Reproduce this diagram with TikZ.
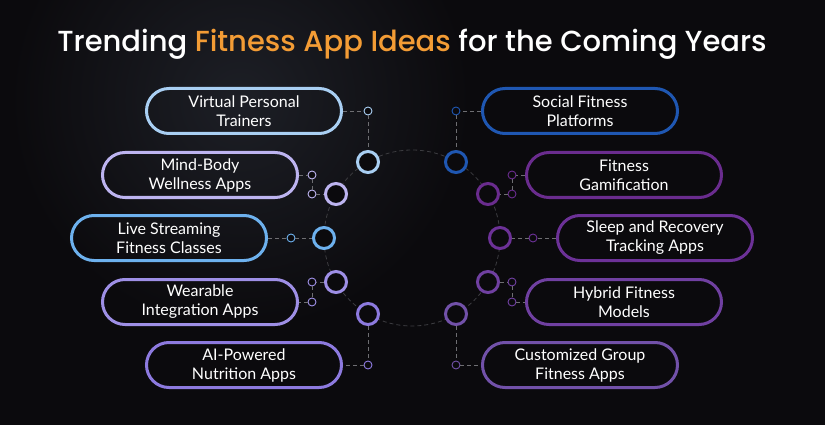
\documentclass[tikz,border=0pt]{standalone}
\usepackage{fontspec}
\setmainfont{Lato}
\newfontfamily\titlefont{Poppins Medium}
\usetikzlibrary{positioning,calc}

\definecolor{bgdark}{HTML}{0B0A0D}
\definecolor{glow}{HTML}{1D1F26}
\definecolor{orangeT}{HTML}{F39C35}
\definecolor{skyA}{HTML}{A9CFF3}
\definecolor{lavA}{HTML}{BDB4F0}
\definecolor{skyB}{HTML}{6DB1EE}
\definecolor{lavB}{HTML}{9E8FE6}
\definecolor{lavC}{HTML}{8D7ADF}
\definecolor{navyA}{HTML}{1F57B2}
\definecolor{plumA}{HTML}{6A2C8E}
\definecolor{plumB}{HTML}{6C3197}
\definecolor{plumC}{HTML}{7040A1}
\definecolor{plumD}{HTML}{7251A9}
\definecolor{dashgray}{HTML}{6E6E72}
\definecolor{ringgray}{HTML}{3C3C40}

\tikzset{
  pill/.style={draw=#1, line width=3pt, rounded corners=22.5pt, minimum width=195pt,
    minimum height=45pt, text=white, align=center, inner sep=0pt,
    font=\fontsize{16}{19}\selectfont},
  ring/.style={circle, draw=#1, line width=3pt, minimum size=21pt, inner sep=0pt, fill=bgdark},
  dot/.style={circle, draw=#1, line width=0.9pt, minimum size=8pt, inner sep=0pt, fill=bgdark},
  link/.style={draw=dashgray, line width=0.8pt, dash pattern=on 4pt off 3pt},
}

\begin{document}
\begin{tikzpicture}[x=1pt, y=-1pt]
  \useasboundingbox (0,0) rectangle (825,425);
  % background
  \begin{scope}
    \clip (0,0) rectangle (825,425);
    \fill[bgdark] (0,0) rectangle (825,425);
    \shade[inner color=glow, outer color=bgdark] (240,100) circle[radius=230pt];
  \end{scope}

  % title
  \node[anchor=base, text=white, inner sep=0pt] (title) at (412,52)
    {\titlefont\fontsize{29}{34}\selectfont Trending \textcolor{orangeT}{Fitness App Ideas} for the Coming Years};

  % dashed ring
  \draw[draw=ringgray, line width=0.8pt, dash pattern=on 4pt off 3pt] (412,238) circle[radius=88pt];

  %left pills
  \node[pill=skyA] (vpt) at (244,111) {Virtual Personal\\Trainers};
  \node[pill=lavA] (mbw) at (200,175) {Mind-Body\\Wellness Apps};
  \node[pill=skyB] (lsf) at (169,238) {Live Streaming\\Fitness Classes};
  \node[pill=lavB] (wia) at (200,302) {Wearable\\Integration Apps};
  \node[pill=lavC] (aip) at (244,365) {AI-Powered\\Nutrition Apps};
  %right pills
  \node[pill=navyA] (sfp) at (580,111) {Social Fitness\\Platforms};
  \node[pill=plumA] (fgm) at (624,175) {Fitness\\Gamification};
  \node[pill=plumB] (srt) at (655,238) {Sleep and Recovery\\Tracking Apps};
  \node[pill=plumC] (hfm) at (624,302) {Hybrid Fitness\\Models};
  \node[pill=plumD] (cgf) at (580,365) {Customized Group\\Fitness Apps};

  %rings on the circle
  \node[ring=skyA]  (r1)  at (368,162) {};
  \node[ring=lavA]  (r2)  at (336,194) {};
  \node[ring=skyB]  (r3)  at (324,238) {};
  \node[ring=lavB]  (r4)  at (336,282) {};
  \node[ring=lavC]  (r5)  at (368,314) {};
  \node[ring=navyA] (r6)  at (456,162) {};
  \node[ring=plumA] (r7)  at (488,194) {};
  \node[ring=plumB] (r8)  at (500,238) {};
  \node[ring=plumC] (r9)  at (488,282) {};
  \node[ring=plumD] (r10) at (456,314) {};

  %small dots
  \node[dot=skyA]  (s1)  at (368,111) {};
  \node[dot=lavA]  (s2a) at (312,175) {};
  \node[dot=lavA]  (s2b) at (312,194) {};
  \node[dot=skyB]  (s3)  at (291,238) {};
  \node[dot=lavB]  (s4a) at (312,282) {};
  \node[dot=lavB]  (s4b) at (312,302) {};
  \node[dot=lavC]  (s5)  at (368,365) {};
  \node[dot=navyA] (s6)  at (456,111) {};
  \node[dot=plumA] (s7a) at (512,175) {};
  \node[dot=plumA] (s7b) at (512,194) {};
  \node[dot=plumB] (s8)  at (533,238) {};
  \node[dot=plumC] (s9a) at (512,282) {};
  \node[dot=plumC] (s9b) at (512,302) {};
  \node[dot=plumD] (s10) at (456,365) {};

  %links
  \draw[link] (vpt) -- (s1) -- (r1);
  \draw[link] (mbw) -- (s2a) -- (s2b) -- (r2);
  \draw[link] (lsf) -- (s3) -- (r3);
  \draw[link] (r4) -- (s4a) -- (s4b) -- (wia);
  \draw[link] (r5) -- (s5) -- (aip);
  \draw[link] (sfp) -- (s6) -- (r6);
  \draw[link] (fgm) -- (s7a) -- (s7b) -- (r7);
  \draw[link] (srt) -- (s8) -- (r8);
  \draw[link] (r9) -- (s9a) -- (s9b) -- (hfm);
  \draw[link] (r10) -- (s10) -- (cgf);
\end{tikzpicture}
\end{document}
